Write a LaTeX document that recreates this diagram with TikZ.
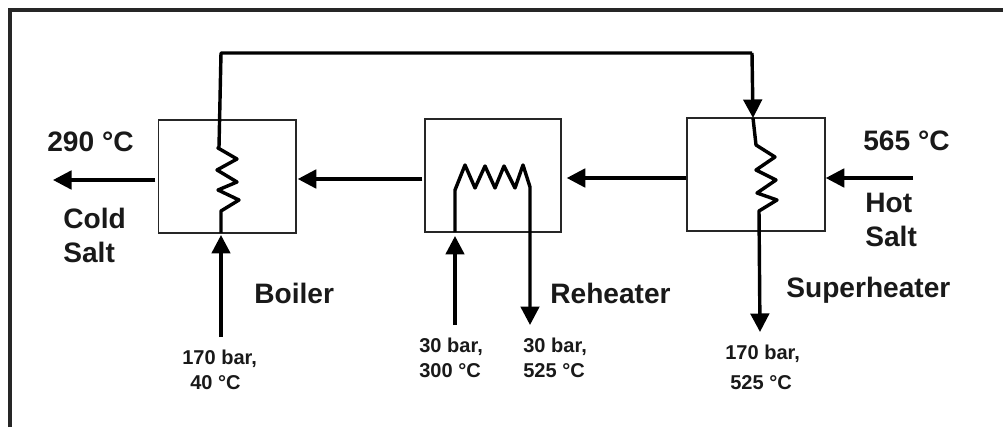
\documentclass[tikz,border=0pt]{standalone}
\usepackage{fontspec}
\setmainfont{Liberation Sans}
\usetikzlibrary{arrows.meta}

\tikzset{
	hxbox/.style={draw=black!85, line width=0.85pt, minimum height=2.26cm, inner sep=0pt},
	pipe/.style={line width=1.95pt, line join=round},
	flow/.style={pipe, -{Triangle[length=0.37cm,width=0.37cm]}},
	biglabel/.style={anchor=west, inner sep=0pt, align=left, text=black!90, font=\bfseries\fontsize{16}{19.3}\selectfont},
	smalllabel/.style={anchor=west, inner sep=0pt, align=left, text=black!90, font=\bfseries\fontsize{11.4}{14.2}\selectfont}
}

\begin{document}
\begin{tikzpicture}
		\useasboundingbox (0,0) rectangle (20.06,8.54);
		
		%Frame
		\coordinate (FA) at (0.2,0);
		\coordinate (FB) at (0.2,8.34);
		\coordinate (FC) at (20.06,8.34);
		\draw[line width=2.1pt, black!85] (FA) -- (FB) -- (FC);
		
		%Heat exchangers
		\node[hxbox, minimum width=2.75cm] (boiler) at (4.545,5.01) {};
		\node[hxbox, minimum width=2.72cm] (reheater) at (9.86,5.03) {};
		\node[hxbox, minimum width=2.76cm] (superheater) at (15.12,5.05) {};
		
		\coordinate (B1) at (4.42,3.88);
		\coordinate (B2) at (4.42,7.48);
		\coordinate (S1) at (15.04,7.48);
		\coordinate (S2) at (15.06,6.18);
		\coordinate (S3) at (15.20,1.90);
		\coordinate (BIn) at (4.42,1.80);
		\coordinate (BTip) at (4.42,3.84);
		\coordinate (R1) at (9.10,3.90);
		\coordinate (R2) at (10.60,2.04);
		\coordinate (RIn) at (9.10,2.04);
		\coordinate (RTip) at (9.10,3.82);
		\coordinate (Cold) at (1.06,4.94);
		\coordinate (Hot) at (18.26,4.98);
		\coordinate (Mid) at (9.86,4.96);
		
		%Steam side
		\draw[pipe] (S1) -- (B2) -- (4.38,5.60) -- (4.36,5.58) -- (4.74,5.36) -- (4.34,5.14) -- (4.74,4.90) -- (4.36,4.74) -- (4.78,4.54) -- (4.42,4.32) -- (B1);
		\draw[flow] (S1) -- (S2);
		\draw[flow] (S2) -- (15.12,5.64) -- (15.50,5.40) -- (15.12,5.14) -- (15.52,4.94) -- (15.14,4.68) -- (15.54,4.54) -- (15.18,4.32) -- (S3);
		\draw[flow] (R1) -- (9.10,4.74) -- (9.30,5.24) -- (9.50,4.78) -- (9.70,5.22) -- (9.90,4.78) -- (10.08,5.22) -- (10.30,4.78) -- (10.46,5.24) -- (10.60,4.80) -- (R2);
		\draw[flow] (BIn) -- (BTip);
		\draw[flow] (RIn) -- (RTip);
		
		%Salt side
		\draw[flow] (Hot) -- (Hot -| superheater.east);
		\draw[flow, shorten >=0.1cm] (Hot -| superheater.west) -- (Hot -| reheater.east);
		\draw[flow, shorten <=0.04cm, shorten >=0.02cm] (Mid -| reheater.west) -- (Mid -| boiler.east);
		\draw[flow, shorten <=0.05cm] (Cold -| boiler.west) -- (Cold);
		
		\node[biglabel] (coldtemp) at (0.94,5.70) {290 °C};
		\node[biglabel] (coldsalt) at (1.26,3.84) {Cold\\Salt};
		\node[biglabel] (hottemp) at (17.26,5.72) {565 °C};
		\node[biglabel] (hotsalt) at (17.30,4.14) {Hot\\Salt};
		\node[biglabel] (boilername) at (5.08,2.68) {Boiler};
		\node[biglabel] (reheatername) at (11.0,2.68) {Reheater};
		\node[biglabel] (superheatername) at (15.72,2.74) {Superheater};
		
		\node[smalllabel] (boilerin) at (3.64,1.14) {170 bar,\\\hspace*{0.16cm}40 °C};
		\node[smalllabel] (reheaterin) at (8.38,1.38) {30 bar,\\300 °C};
		\node[smalllabel] (reheaterout) at (10.46,1.38) {30 bar,\\525 °C};
		\node[smalllabel] (superheaterout) at (14.50,1.19) {170 bar,\\[3pt]\hspace*{0.1cm}525 °C};
		
\end{tikzpicture}
\end{document}
